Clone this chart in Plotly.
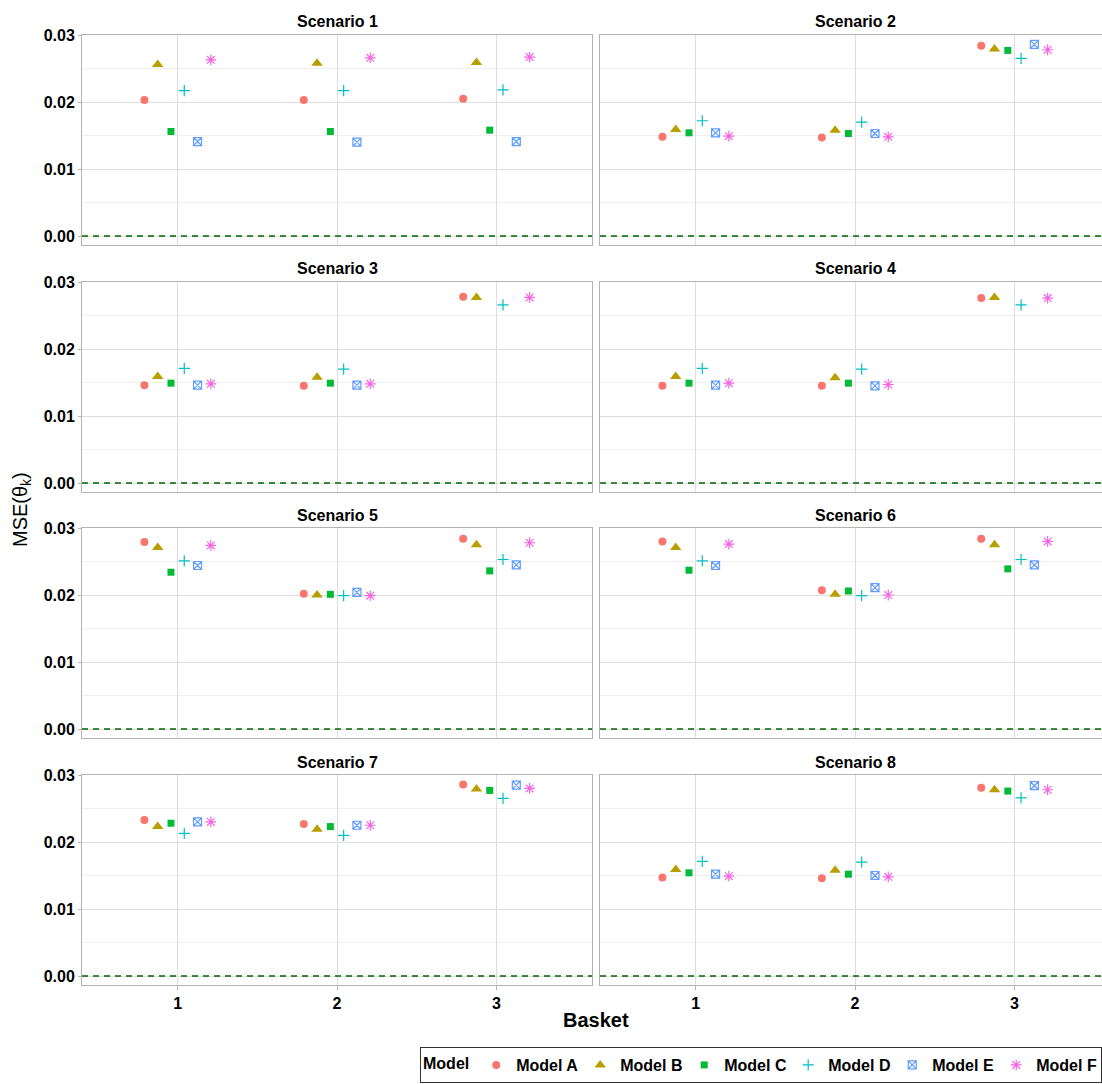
import plotly.graph_objects as go

# ---- data ----
scenarios = ["Scenario 1", "Scenario 2", "Scenario 3", "Scenario 4",
             "Scenario 5", "Scenario 6", "Scenario 7", "Scenario 8"]
baskets = [1, 2, 3]
basket_labels = ["1", "2", "3"]
models = ["Model A", "Model B", "Model C", "Model D", "Model E", "Model F"]

# values per model: scenario 1..8, each [basket1, basket2, basket3]
mse_model_a = [[0.0203, 0.0203, 0.0205], [0.0148, 0.0147, 0.0284], [0.0146, 0.0145, 0.0278],
               [0.0145, 0.0145, 0.0276], [0.0279, 0.0202, 0.0284], [0.0280, 0.0207, 0.0284],
               [0.0233, 0.0227, 0.0286], [0.0147, 0.0146, 0.0281]]
mse_model_b = [[0.0256, 0.0258, 0.0259], [0.0159, 0.0158, 0.0279], [0.0159, 0.0158, 0.0277],
               [0.0159, 0.0157, 0.0277], [0.0271, 0.0200, 0.0275], [0.0271, 0.0201, 0.0275],
               [0.0223, 0.0219, 0.0279], [0.0159, 0.0158, 0.0278]]
mse_model_c = [[0.0156, 0.0156, 0.0158], [0.0154, 0.0153, 0.0277], [0.0149, 0.0149, None],
               [0.0149, 0.0149, None], [0.0234, 0.0201, 0.0236], [0.0237, 0.0206, 0.0239],
               [0.0228, 0.0223, 0.0277], [0.0154, 0.0152, 0.0276]]
mse_model_d = [[0.0217, 0.0217, 0.0218], [0.0172, 0.0170, 0.0265], [0.0171, 0.0170, 0.0266],
               [0.0171, 0.0170, 0.0266], [0.0251, 0.0199, 0.0253], [0.0251, 0.0199, 0.0253],
               [0.0213, 0.0210, 0.0265], [0.0171, 0.0170, 0.0266]]
mse_model_e = [[0.0141, 0.0140, 0.0141], [0.0154, 0.0153, 0.0286], [0.0146, 0.0146, None],
               [0.0146, 0.0145, None], [0.0244, 0.0204, 0.0245], [0.0244, 0.0211, 0.0245],
               [0.0230, 0.0225, 0.0285], [0.0152, 0.0150, 0.0284]]
mse_model_f = [[0.0263, 0.0266, 0.0267], [0.0149, 0.0148, 0.0278], [0.0148, 0.0148, 0.0277],
               [0.0149, 0.0147, 0.0276], [0.0274, 0.0199, 0.0278], [0.0276, 0.0200, 0.0280],
               [0.0230, 0.0225, 0.0280], [0.0149, 0.0148, 0.0278]]

y_tick_vals = [0.0, 0.01, 0.02, 0.03]
y_tick_text = ["0.00", "0.01", "0.02", "0.03"]
y_minor_vals = [0.005, 0.015, 0.025]

# ---- styling ----
series = [mse_model_a, mse_model_b, mse_model_c, mse_model_d, mse_model_e, mse_model_f]
colors = ["#F8766D", "#B79F00", "#00BA38", "#00BFC4", "#619CFF", "#F564E3"]
symbols = ["circle", "triangle-up", "square", "cross-thin-open", "square-x-open", "asterisk-open"]
sizes = [8, 10, 7, 8, 8, 9]
dodge_width = 0.5

W, H = 1102, 1084
col_px = [(82, 592), (600, 1102)]
row_top_px = [35, 282, 528, 775]
panel_h = 210
x_ranges = [[0.4, 3.6], [0.4, 0.4 + (1102 - 600) / 159.4]]
y_range = [-0.001343, 0.03]

FONT = "Liberation Sans, Arial, sans-serif"
grid_major = "#dedede"
grid_minor = "#f0f0f0"
border = "#b3b3b3"

fig = go.Figure()
layout = dict(
    width=W, height=H, autosize=False,
    margin=dict(l=0, r=0, t=0, b=0, autoexpand=False),
    paper_bgcolor="white", plot_bgcolor="white",
    font=dict(family=FONT, color="black"),
    showlegend=True,
)

annotations = []
shapes = []
n_models = len(models)
for si, scen in enumerate(scenarios):
    n = si + 1
    r, c = divmod(si, 2)
    xa = "x" if n == 1 else f"x{n}"
    ya = "y" if n == 1 else f"y{n}"
    x0, x1 = col_px[c]
    top = row_top_px[r]
    bot = top + panel_h
    xkey = "xaxis" if n == 1 else f"xaxis{n}"
    ykey = "yaxis" if n == 1 else f"yaxis{n}"
    layout[xkey] = dict(
        domain=[x0 / W, x1 / W], range=x_ranges[c], anchor=ya,
        tickvals=baskets, ticktext=basket_labels,
        showticklabels=(r == 3),
        ticks="outside" if r == 3 else "", ticklen=4, tickcolor=border,
        tickfont=dict(size=16, family=FONT, weight="bold", color="black"),
        showgrid=True, gridcolor=grid_major, gridwidth=1,
        zeroline=False, showline=True, linecolor=border, linewidth=1, mirror=True,
        fixedrange=True, automargin=False,
    )
    layout[ykey] = dict(
        domain=[1 - bot / H, 1 - top / H], range=y_range, anchor=xa,
        tickvals=y_tick_vals, ticktext=y_tick_text,
        showticklabels=(c == 0),
        ticks="outside" if c == 0 else "", ticklen=3, tickcolor=border,
        tickfont=dict(size=16, family=FONT, weight="bold", color="black"),
        showgrid=True, gridcolor=grid_major, gridwidth=1,
        minor=dict(tickvals=y_minor_vals, showgrid=True, gridcolor=grid_minor, gridwidth=1, ticks=""),
        zeroline=False, showline=True, linecolor=border, linewidth=1, mirror=(c == 0),
        fixedrange=True, automargin=False,
    )
    # dashed reference line at zero
    shapes.append(dict(type="line", xref=f"{xa} domain", yref=ya, x0=0, x1=1, y0=0, y1=0,
                       line=dict(color="#006400", width=1.5, dash="6px,5px"), layer="above"))
    # strip title
    annotations.append(dict(text=f"<b>{scen}</b>", xref=xa, yref=f"{ya} domain", x=2, y=1,
                            yanchor="middle", yshift=13, showarrow=False,
                            font=dict(size=16, family=FONT, color="black")))
    for mi in range(n_models):
        offset = (mi - (n_models - 1) / 2) * dodge_width / n_models
        vals = series[mi][si]
        fig.add_trace(go.Scatter(
            x=[b + offset for b in baskets], y=vals, mode="markers",
            name=models[mi], legendgroup=models[mi], showlegend=(si == 0),
            xaxis=xa, yaxis=ya,
            marker=dict(symbol=symbols[mi], color=colors[mi], size=sizes[mi],
                        line=dict(color=colors[mi], width=1.2 if "open" in symbols[mi] else 0)),
            cliponaxis=False,
        ))

annotations.append(dict(text="<b>Basket</b>", xref="paper", yref="paper",
                        x=596 / W, y=1 - 1020 / H, xanchor="center", yanchor="middle",
                        showarrow=False, font=dict(size=20, family=FONT, color="black")))
annotations.append(dict(text="MSE(θ<sub>k</sub>)", xref="paper", yref="paper",
                        x=22 / W, y=1 - 510 / H, xanchor="center", yanchor="middle",
                        textangle=-90, showarrow=False,
                        font=dict(size=20, family=FONT, color="black")))

layout["annotations"] = annotations
layout["shapes"] = shapes
layout["legend"] = dict(
    orientation="h", x=420 / W, y=1 - 1047 / H, xanchor="left", yanchor="top",
    title=dict(text="<b>Model</b>", side="left", font=dict(size=16, family=FONT, color="black")),
    font=dict(size=16, family=FONT, color="black", weight="bold"),
    bordercolor="#333333", borderwidth=1, bgcolor="white",
    entrywidth=59, entrywidthmode="pixels", itemsizing="trace",
)
fig.update_layout(**layout)
fig.write_html("out.html",
               config={"displayModeBar": False},
               post_script="document.body.style.margin='0';document.body.style.overflow='hidden';")
